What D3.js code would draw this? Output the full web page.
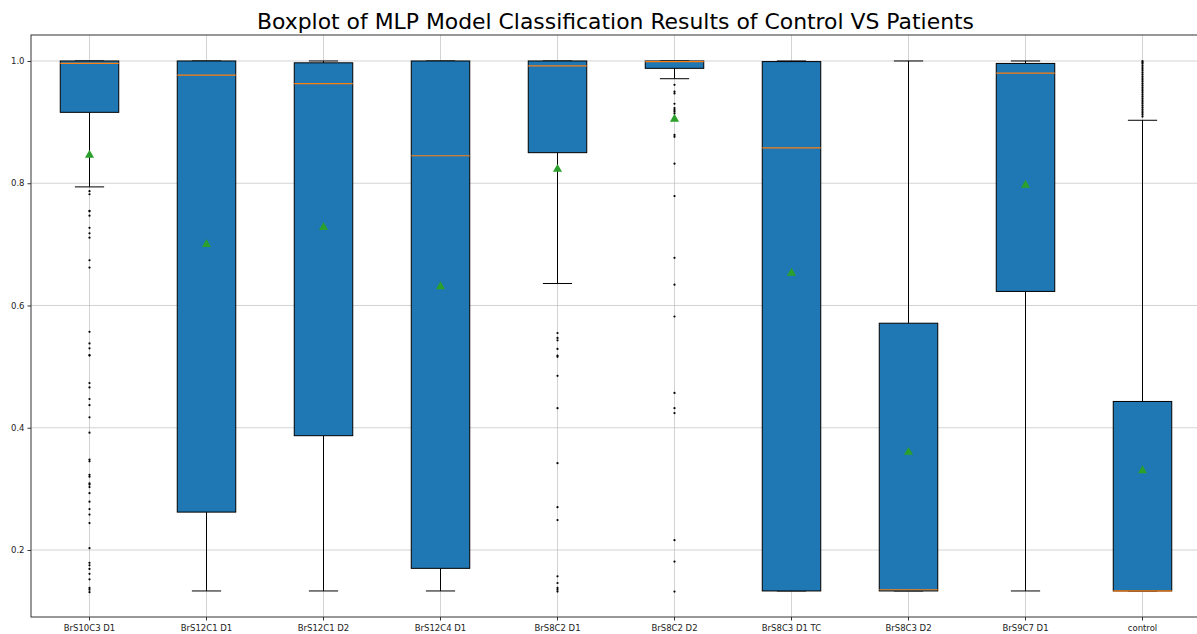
<!DOCTYPE html>
<html>
<head>
<meta charset="utf-8">
<script src="https://cdn.jsdelivr.net/npm/d3@7"></script>
<style>
  body { margin: 0; background: #fff; }
  svg { display: block; }
  text { font-family: "DejaVu Sans", sans-serif; }
</style>
</head>
<body>
<svg id="chart" width="1197" height="634"></svg>
<script>
const title = "Boxplot of MLP Model Classification Results of Control VS Patients";
const categories = ["BrS10C3 D1", "BrS12C1 D1", "BrS12C1 D2", "BrS12C4 D1", "BrS8C2 D1",
                    "BrS8C2 D2", "BrS8C3 D1 TC", "BrS8C3 D2", "BrS9C7 D1", "control"];
const q1Values      = [0.916, 0.262, 0.387, 0.170, 0.850, 0.988, 0.133, 0.133, 0.623, 0.133];
const medianValues  = [0.996, 0.977, 0.963, 0.845, 0.992, 0.999, 0.858, 0.135, 0.980, 0.133];
const q3Values      = [1.000, 1.000, 0.997, 1.000, 1.000, 1.000, 0.999, 0.571, 0.996, 0.443];
const whiskerLow    = [0.794, 0.133, 0.133, 0.133, 0.636, 0.971, 0.133, 0.133, 0.133, 0.133];
const whiskerHigh   = [1.000, 1.000, 1.000, 1.000, 1.000, 1.000, 1.000, 1.000, 1.000, 0.903];
const meanValues    = [0.846, 0.700, 0.728, 0.631, 0.823, 0.905, 0.653, 0.360, 0.797, 0.330];
const outliers = [
  [0.787, 0.782, 0.755, 0.754, 0.747, 0.727, 0.718, 0.711, 0.674, 0.662, 0.557, 0.538, 0.530,
   0.519, 0.518, 0.473, 0.466, 0.447, 0.437, 0.417, 0.392, 0.348, 0.345, 0.323, 0.320, 0.309,
   0.307, 0.303, 0.293, 0.279, 0.267, 0.258, 0.244, 0.203, 0.179, 0.175, 0.169, 0.161, 0.152,
   0.138, 0.135, 0.131],
  [], [], [],
  [0.555, 0.547, 0.543, 0.529, 0.518, 0.516, 0.485, 0.432, 0.342, 0.270, 0.249, 0.157, 0.146,
   0.138, 0.135, 0.132],
  [0.961, 0.950, 0.947, 0.930, 0.923, 0.920, 0.917, 0.914, 0.879, 0.876, 0.832, 0.779, 0.678,
   0.634, 0.582, 0.457, 0.432, 0.424, 0.216, 0.181, 0.132],
  [], [], [],
  [1.000, 0.998, 0.996, 0.993, 0.990, 0.987, 0.984, 0.981, 0.978, 0.975, 0.972, 0.969, 0.966,
   0.963, 0.960, 0.957, 0.954, 0.951, 0.948, 0.945, 0.942, 0.939, 0.936, 0.933, 0.930, 0.927,
   0.924, 0.921, 0.918, 0.915, 0.912, 0.909]
];
const yTicks = [0.2, 0.4, 0.6, 0.8, 1.0];

const svg = d3.select("#chart");
const mLeft = 31, mRight = 1201, mTop = 35, mBottom = 617;

const x = d3.scaleBand().domain(categories).range([mLeft, mRight]).padding(0);
const y = d3.scaleLinear().domain([0.0904, 1.0425]).range([mBottom, mTop]);
const cx = c => x(c) + x.bandwidth() / 2;
const boxW = x.bandwidth() * 0.5;
const capW = x.bandwidth() * 0.25;

svg.append("defs").append("clipPath").attr("id", "clip")
  .append("rect").attr("x", mLeft).attr("y", mTop).attr("width", mRight - mLeft).attr("height", mBottom - mTop);

// grid
const grid = svg.append("g").attr("clip-path", "url(#clip)");
grid.selectAll("line.gy").data(yTicks).join("line")
  .attr("x1", mLeft).attr("x2", mRight)
  .attr("y1", d => y(d)).attr("y2", d => y(d))
  .attr("stroke", "#b0b0b0").attr("stroke-opacity", 0.7).attr("stroke-width", 0.8);
grid.selectAll("line.gx").data(categories).join("line")
  .attr("x1", d => cx(d)).attr("x2", d => cx(d))
  .attr("y1", mTop).attr("y2", mBottom)
  .attr("stroke", "#b0b0b0").attr("stroke-opacity", 0.7).attr("stroke-width", 0.8);

const plot = svg.append("g").attr("clip-path", "url(#clip)");
const data = categories.map((c, i) => ({
  c, q1: q1Values[i], med: medianValues[i], q3: q3Values[i],
  lo: whiskerLow[i], hi: whiskerHigh[i], mean: meanValues[i], out: outliers[i]
}));

const g = plot.selectAll("g.box").data(data).join("g").attr("class", "box");
// whiskers
g.append("line").attr("x1", d => cx(d.c)).attr("x2", d => cx(d.c))
  .attr("y1", d => y(d.q1)).attr("y2", d => y(d.lo)).attr("stroke", "#000").attr("stroke-width", 1);
g.append("line").attr("x1", d => cx(d.c)).attr("x2", d => cx(d.c))
  .attr("y1", d => y(d.q3)).attr("y2", d => y(d.hi)).attr("stroke", "#000").attr("stroke-width", 1);
// caps
g.append("line").attr("x1", d => cx(d.c) - capW / 2).attr("x2", d => cx(d.c) + capW / 2)
  .attr("y1", d => y(d.lo)).attr("y2", d => y(d.lo)).attr("stroke", "#000").attr("stroke-width", 1);
g.append("line").attr("x1", d => cx(d.c) - capW / 2).attr("x2", d => cx(d.c) + capW / 2)
  .attr("y1", d => y(d.hi)).attr("y2", d => y(d.hi)).attr("stroke", "#000").attr("stroke-width", 1);
// box
g.append("rect").attr("x", d => cx(d.c) - boxW / 2).attr("width", boxW)
  .attr("y", d => y(d.q3)).attr("height", d => Math.max(0.5, y(d.q1) - y(d.q3)))
  .attr("fill", "#1f77b4").attr("stroke", "#000").attr("stroke-width", 1);
// median
g.append("line").attr("x1", d => cx(d.c) - boxW / 2).attr("x2", d => cx(d.c) + boxW / 2)
  .attr("y1", d => y(d.med)).attr("y2", d => y(d.med)).attr("stroke", "#ff7f0e").attr("stroke-width", 1.2);
// outliers
g.each(function(d) {
  d3.select(this).selectAll("circle").data(d.out).join("circle")
    .attr("cx", cx(d.c)).attr("cy", v => y(v)).attr("r", 1.1).attr("fill", "#000");
});
// mean
g.append("path").attr("d", d3.symbol(d3.symbolTriangle, 36))
  .attr("transform", d => `translate(${cx(d.c)},${y(d.mean)})`)
  .attr("fill", "#2ca02c");

// axes
const yAxis = svg.append("g").attr("transform", `translate(${mLeft},0)`)
  .call(d3.axisLeft(y).tickValues(yTicks).tickFormat(d3.format(".1f")).tickSize(3.5).tickPadding(3));
const xAxis = svg.append("g").attr("transform", `translate(0,${mBottom})`)
  .call(d3.axisBottom(x).tickSize(3.5).tickPadding(4));
[yAxis, xAxis].forEach(a => {
  a.select(".domain").remove();
  a.selectAll("text").attr("font-size", 8.5).attr("fill", "#222").attr("font-family", "DejaVu Sans");
  a.selectAll("line").attr("stroke", "#333");
});

// spines
svg.append("rect").attr("x", mLeft).attr("y", mTop).attr("width", mRight - mLeft).attr("height", mBottom - mTop)
  .attr("fill", "none").attr("stroke", "#333").attr("stroke-width", 1);

svg.append("text").attr("x", 615.5).attr("y", 29)
  .attr("text-anchor", "middle").attr("font-size", 21.9).attr("fill", "#000").text(title);
</script>
</body>
</html>
